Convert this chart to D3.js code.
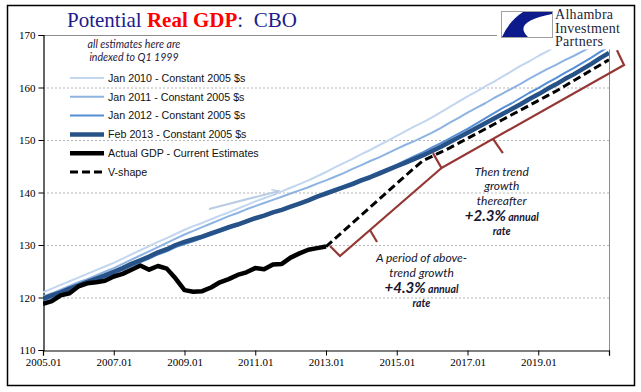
<!DOCTYPE html>
<html>
<head>
<meta charset="utf-8">
<script src="https://cdn.jsdelivr.net/npm/d3@7"></script>
<style>
  body { margin: 0; background: #fff; }
  svg { display: block; }
</style>
</head>
<body>
<div id="chart"></div>
<script>
// quarters: index 0 = 2005.01 ... index 64 = 2021.01
var tickLabels = ["2005.01", "2007.01", "2009.01", "2011.01", "2013.01", "2015.01", "2017.01", "2019.01", ""];
var yTicks = [110, 120, 130, 140, 150, 160, 170];

// CBO potential GDP, indexed to Q1 1999
var jan2010 = [121.0, 121.7, 122.4, 123.1, 123.8, 124.5, 125.2, 125.9, 126.6, 127.4, 128.2, 129.0,
  129.8, 130.6, 131.3, 132.1, 132.9, 133.6, 134.2, 134.9, 135.6, 136.2, 136.9, 137.6,
  138.3, 138.9, 139.5, 140.2, 140.9, 141.6, 142.3, 143.1, 143.9, 144.8, 145.6, 146.4,
  147.3, 148.1, 149.0, 149.9, 150.8, 151.7, 152.6, 153.4, 154.3, 155.3, 156.3, 157.3,
  158.3, 159.2, 160.2, 161.1, 162.1, 163.1, 164.1, 165.0, 166.0, 166.9, 167.9, 168.8,
  169.8, 170.8, 171.7, 172.7];
var jan2011 = [120.2, 120.8, 121.5, 122.2, 122.9, 123.5, 124.2, 124.9, 125.6, 126.4, 127.2, 128.0,
  128.8, 129.6, 130.4, 131.2, 132.0, 132.7, 133.4, 134.1, 134.8, 135.5, 136.1, 136.8,
  137.4, 138.0, 138.6, 139.2, 139.8, 140.4, 141.0, 141.7, 142.3, 143.0, 143.7, 144.5,
  145.2, 146.0, 146.7, 147.5, 148.3, 149.1, 149.8, 150.6, 151.4, 152.3, 153.3, 154.2,
  155.2, 156.1, 157.0, 158.0, 158.9, 159.8, 160.7, 161.7, 162.6, 163.5, 164.3, 165.2,
  166.0, 166.9, 167.8, 168.6, 169.5];
var jan2012 = [119.4, 120.0, 120.6, 121.3, 121.9, 122.6, 123.2, 123.8, 124.5, 125.2, 126.0, 126.7,
  127.4, 128.2, 128.8, 129.6, 130.2, 130.7, 131.3, 131.9, 132.5, 133.1, 133.7, 134.3,
  134.9, 135.5, 136.1, 136.7, 137.4, 138.0, 138.7, 139.4, 140.1, 140.7, 141.3, 141.9,
  142.6, 143.2, 143.9, 144.6, 145.3, 146.1, 146.9, 147.7, 148.6, 149.4, 150.3, 151.2,
  152.1, 153.1, 154.1, 155.1, 156.1, 157.0, 158.0, 159.0, 159.9, 160.9, 161.8, 162.8,
  163.7, 164.7, 165.7, 166.8, 167.8];
var feb2013 = [119.8, 120.4, 121.0, 121.7, 122.3, 123.0, 123.6, 124.2, 124.9, 125.6, 126.4, 127.1,
  127.8, 128.6, 129.2, 130.0, 130.6, 131.1, 131.6, 132.2, 132.8, 133.4, 133.9, 134.5,
  135.1, 135.6, 136.2, 136.7, 137.3, 137.9, 138.5, 139.2, 139.8, 140.4, 141.0, 141.6,
  142.3, 142.9, 143.6, 144.3, 145.0, 145.7, 146.4, 147.1, 147.9, 148.7, 149.6, 150.5,
  151.4, 152.3, 153.2, 154.1, 155.0, 155.9, 156.8, 157.8, 158.7, 159.7, 160.6, 161.6,
  162.5, 163.5, 164.5, 165.6, 166.6];
// actual real GDP 2005.01 - 2013.01
var actualGdp = [118.8, 119.3, 120.4, 120.8, 122.1, 122.7, 122.9, 123.2, 124.0, 124.5, 125.3, 126.1,
  125.3, 126.0, 125.5, 123.6, 121.4, 121.1, 121.2, 121.9, 122.9, 123.5, 124.3, 124.8,
  125.6, 125.4, 126.3, 126.4, 127.6, 128.4, 129.1, 129.4, 129.7];
// V-shape path from 2013.01 on
var vShape = [129.7, 131.2, 132.7, 134.2, 135.7, 137.2, 138.7, 140.2, 141.7, 143.2, 144.7, 146.1,
  146.9, 147.7, 148.5, 149.4, 150.3, 151.2, 152.1, 153.0, 153.9, 154.8, 155.7, 156.6,
  157.5, 158.4, 159.3, 160.3, 161.3, 162.3, 163.3, 164.3, 165.3];
var vShapeStart = 32;

var W = 641, H = 392;
var x = d3.scaleLinear().domain([0, 64]).range([43, 609]);
var y = d3.scaleLinear().domain([110, 170]).range([350, 35]);

var series = [
  {name: "Jan 2010 - Constant 2005 $s", values: jan2010, start: 0, color: "#c2d6ef", width: 2},
  {name: "Jan 2011 - Constant 2005 $s", values: jan2011, start: 0, color: "#8db3e2", width: 2},
  {name: "Jan 2012 - Constant 2005 $s", values: jan2012, start: 0, color: "#558ed5", width: 2},
  {name: "Feb 2013 - Constant 2005 $s", values: feb2013, start: 0, color: "#275287", width: 4.5},
  {name: "Actual GDP - Current Estimates", values: actualGdp, start: 0, color: "#000", width: 4.5},
  {name: "V-shape", values: vShape, start: vShapeStart, color: "#000", width: 3, dash: "8,4"}
];

var svg = d3.select("#chart").append("svg")
  .attr("width", W)
  .attr("height", H);

svg.append("rect").attr("width", W).attr("height", H).attr("fill", "#fff");

svg.append("defs").append("clipPath").attr("id", "plot")
  .append("rect")
    .attr("x", x(0)).attr("y", y(170))
    .attr("width", x(64) - x(0)).attr("height", y(110) - y(170));

// gridlines
svg.append("g").selectAll("line")
  .data(yTicks.filter(function(d) { return d > 110 && d < 170; }))
  .enter().append("line")
    .attr("x1", x(0)).attr("x2", x(64))
    .attr("y1", function(d) { return y(d) + 0.5; })
    .attr("y2", function(d) { return y(d) + 0.5; })
    .style("stroke", "#b4b4b4")
    .style("stroke-width", 1)
    .style("stroke-dasharray", "2,2");

// plot area border (top + right)
svg.append("path")
  .attr("d", "M" + x(0) + "," + (y(170) + 0.5) + "H" + (x(64) + 0.5) + "V" + y(110))
  .style("fill", "none")
  .style("stroke", "#8c8c8c")
  .style("stroke-width", 1);

// axes
var yAxis = svg.append("g")
  .attr("transform", "translate(" + (x(0) + 0.5) + ",0)")
  .call(d3.axisLeft(y).tickValues(yTicks).tickSize(5).tickPadding(3).tickFormat(d3.format("d")));
var xAxis = svg.append("g")
  .attr("transform", "translate(0," + (y(110) + 0.5) + ")")
  .call(d3.axisBottom(x).tickValues(d3.range(0, 65, 8)).tickSize(5).tickPadding(3)
    .tickFormat(function(d, i) { return tickLabels[i]; }));
[yAxis, xAxis].forEach(function(a) {
  a.select(".domain").style("stroke", "#000").style("stroke-width", 1.2);
  a.selectAll(".tick line").style("stroke", "#000");
  a.selectAll("text").style("font-family", "'Liberation Serif', 'Times New Roman', serif")
    .style("font-size", "11px")
    .style("fill", "#000");
});

// series lines
var line = d3.line()
  .x(function(d) { return x(d.q); })
  .y(function(d) { return y(d.v); });

svg.append("g")
  .attr("clip-path", "url(#plot)")
  .selectAll("path")
  .data(series)
  .enter().append("path")
    .attr("d", function(s) {
      return line(s.values.map(function(v, i) { return {q: s.start + i, v: v}; }));
    })
    .style("fill", "none")
    .style("stroke", function(s) { return s.color; })
    .style("stroke-width", function(s) { return s.width; })
    .style("stroke-dasharray", function(s) { return s.dash || null; })
    .style("stroke-linejoin", "round");

// legend
var legend = svg.append("g");
legend.append("text")
  .attr("x", 134).attr("y", 48)
  .attr("text-anchor", "middle")
  .style("font", "italic 10.6px Lato, 'Open Sans', sans-serif")
  .style("fill", "#1f2040")
  .selectAll("tspan")
  .data(["all estimates here are", "indexed to Q1 1999"])
  .enter().append("tspan")
    .attr("x", 134)
    .attr("dy", function(d, i) { return i ? 13 : 0; })
    .text(function(d) { return d; });

var items = legend.selectAll("g.item")
  .data(series)
  .enter().append("g")
    .attr("class", "item")
    .attr("transform", function(d, i) { return "translate(70," + (78 + i * 18.8) + ")"; });
items.append("line")
  .attr("x1", 0).attr("x2", 34)
  .style("stroke", function(s) { return s.color; })
  .style("stroke-width", function(s) { return s.width; })
  .style("stroke-dasharray", function(s) { return s.dash || null; });
items.append("text")
  .attr("x", 38).attr("dy", "0.36em")
  .style("font", "10.7px 'Liberation Sans', Arial, sans-serif")
  .style("fill", "#111")
  .text(function(s) { return s.name; });

// arrow annotation
svg.append("defs").append("marker")
  .attr("id", "arr")
  .attr("viewBox", "0 -5 10 10")
  .attr("refX", 9).attr("refY", 0)
  .attr("markerWidth", 4).attr("markerHeight", 4)
  .attr("markerUnits", "strokeWidth")
  .attr("orient", "auto")
  .append("path")
    .attr("d", "M0,-4L9,0L0,4")
    .style("fill", "none")
    .style("stroke", "#b8cce4")
    .style("stroke-width", 1.5);

svg.append("line")
  .attr("x1", x(18.77)).attr("y1", y(136.86))
  .attr("x2", x(26.69)).attr("y2", y(140.29))
  .style("stroke", "#b8cce4")
  .style("stroke-width", 2)
  .attr("marker-end", "url(#arr)");

// brackets
var brackets = [
  [[32.45, 129.8], [33.58, 127.9], [45.06, 144.67]],
  [[36.97, 132.86], [37.77, 130.57]],
  [[44.1, 147.5], [45.06, 144.67], [65.7, 164.3], [64.9, 167.1]],
  [[50.88, 150.2], [52.0, 147.5]]
];
var bline = d3.line().x(function(d) { return x(d[0]); }).y(function(d) { return y(d[1]); });
svg.append("g").selectAll("path")
  .data(brackets)
  .enter().append("path")
    .attr("d", bline)
    .style("fill", "none")
    .style("stroke", "#953735")
    .style("stroke-width", 2.2)
    .style("stroke-linejoin", "miter");

// annotation text
function annot(cx, y0, lines, pct) {
  var g = svg.append("g").style("fill", "#15152e");
  lines.forEach(function(t, i) {
    g.append("text")
      .attr("x", cx).attr("y", y0 + i * 14.5)
      .attr("text-anchor", "middle")
      .style("font", "italic 12px Lato, 'Open Sans', sans-serif")
      .text(t);
  });
  var t = g.append("text")
    .attr("x", cx).attr("y", y0 + lines.length * 14.5 + 2)
    .attr("text-anchor", "middle")
    .style("font-family", "Lato, 'Open Sans', sans-serif")
    .style("font-style", "italic")
    .style("font-weight", "bold");
  t.append("tspan").style("font-size", "15px").text(pct);
  t.append("tspan").style("font-size", "10.5px").text(" annual");
  g.append("text")
    .attr("x", cx).attr("y", y0 + lines.length * 14.5 + 16)
    .attr("text-anchor", "middle")
    .style("font", "italic bold 10.5px Lato, 'Open Sans', sans-serif")
    .text("rate");
}
annot(501.7, 175.5, ["Then trend", "growth", "thereafter"], "+2.3%");
annot(421.5, 262, ["A period of above-", "trend growth"], "+4.3%");

// logo
var logo = svg.append("g");
logo.append("rect").attr("x", 497).attr("y", 6).attr("width", 134).attr("height", 43.5).attr("fill", "#fff");
logo.append("rect").attr("x", 501.5).attr("y", 11.5).attr("width", 51).attr("height", 26)
  .style("fill", "#fff").style("stroke", "#a0a0a0").style("stroke-width", 1);
logo.append("path")
  .attr("d", "M523,12 L552,12 L552,14 Q512,22 528,37 L502,37 Q509,21 523,12 Z")
  .style("fill", "#0c1a8c");
logo.append("g").selectAll("text")
  .data(["Alhambra", "Investment", "Partners"])
  .enter().append("text")
    .attr("x", 555).attr("y", function(d, i) { return 19 + i * 13.5; })
    .style("font", "14px 'Liberation Serif', 'Times New Roman', serif")
    .style("letter-spacing", "0.3px")
    .style("fill", "#1b1f3b")
    .text(function(d) { return d; });

// title
var title = svg.append("text")
  .attr("x", 67).attr("y", 27)
  .attr("xml:space", "preserve")
  .style("font-family", "'Liberation Serif', 'Times New Roman', serif")
  .style("font-size", "21px");
title.append("tspan").style("fill", "#1c1c8e").text("Potential ");
title.append("tspan").style("fill", "#ff0000").style("font-weight", "bold").text("Real GDP");
title.append("tspan").style("fill", "#1c1c8e").text(":  CBO");

// outer border
svg.append("rect")
  .attr("x", 7.5).attr("y", 5.5).attr("width", 627).attr("height", 380)
  .style("fill", "none").style("stroke", "#000").style("stroke-width", 1.5);
</script>
</body>
</html>
